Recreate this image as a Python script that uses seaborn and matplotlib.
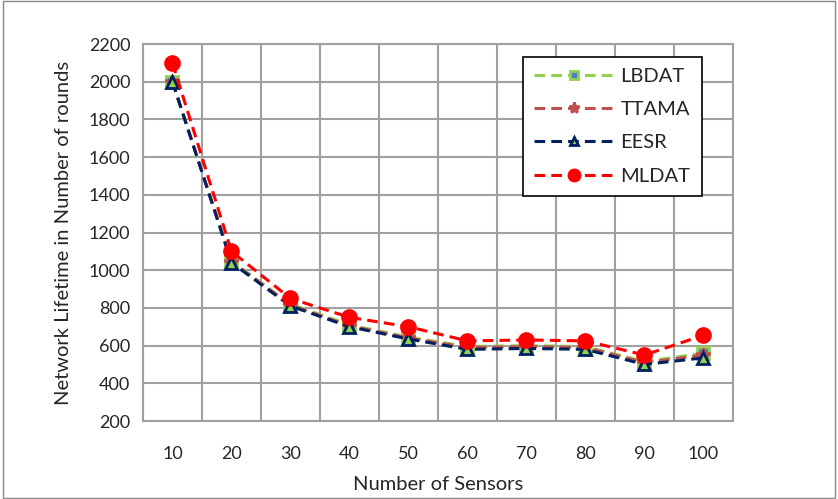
import numpy as np
import pandas as pd
import seaborn as sns
import matplotlib.pyplot as plt
from matplotlib.patches import Rectangle

sensors = ['10', '20', '30', '40', '50', '60', '70', '80', '90', '100']
lbdat = [2000, 1050, 820, 710, 645, 595, 600, 595, 515, 560]
ttama = [2000, 1045, 815, 705, 640, 590, 595, 590, 510, 550]
eesr = [2000, 1040, 810, 700, 635, 580, 585, 580, 500, 535]
mldat = [2100, 1100, 850, 750, 700, 625, 630, 625, 550, 655]

sns.set_style('white')
plt.rcParams['font.family'] = ['Lato', 'DejaVu Sans']

fig = plt.figure(figsize=(8.38, 4.99), dpi=100)
fig.patches.append(Rectangle((0.003, 0.003), 0.994, 0.994, transform=fig.transFigure,
                             fill=False, edgecolor='#888888', linewidth=1))
ax = fig.add_axes([0.1706, 0.1563, 0.7041, 0.7555])

pos = np.arange(len(sensors))
# (name, values, line colour, marker, marker face, marker edge, size)
series = [
    ('LBDAT', lbdat, '#92D050', 's', '#4F81BD', '#92D050', 8),
    ('TTAMA', ttama, '#C0504D', '*', '#C0504D', '#C0504D', 10),
    ('EESR', eesr, '#002060', '^', '#92D050', '#002060', 8),
    ('MLDAT', mldat, '#FF0000', 'o', '#FF0000', '#FF0000', 10),
]
for name, vals, col, mk, mfc, mec, ms in series:
    sns.lineplot(x=pos, y=vals, ax=ax, color=col, linewidth=2.2, label=name,
                 marker=mk, markersize=ms, markerfacecolor=mfc, markeredgecolor=mec,
                 markeredgewidth=2, dashes=False)
    ax.lines[-1].set_dashes([3.5, 2])

ax.set_xlim(-0.5, 9.5)
ax.set_ylim(200, 2200)
ax.set_yticks(range(200, 2201, 200))
ax.set_xticks(pos)
ax.set_xticklabels(sensors)
ax.set_xticks(np.arange(-0.5, 10, 1), minor=True)
ax.grid(False)
ax.grid(True, which='minor', axis='x', color='#A0A0A0', linewidth=1.5)
ax.grid(True, which='major', axis='y', color='#A0A0A0', linewidth=1.5)
ax.set_axisbelow(True)
for s in ax.spines.values():
    s.set_color('#A0A0A0')
    s.set_linewidth(1.5)
ax.tick_params(axis='x', which='major', length=0, labelsize=13, pad=18)
ax.tick_params(axis='x', which='minor', length=6, color='#A0A0A0', width=1.5, direction='out')
ax.tick_params(axis='y', length=6, color='#A0A0A0', width=1.5, direction='out', labelsize=13, pad=3)
ax.set_xlabel('Number of Sensors', fontsize=14.5, labelpad=10)
ax.set_ylabel('Network Lifetime in Number of rounds', fontsize=14.5, labelpad=12)

leg = ax.legend(loc='upper left', bbox_to_anchor=(0.644, 0.966), borderaxespad=0,
                fontsize=14.5, frameon=True, fancybox=False, edgecolor='black',
                borderpad=0.55, labelspacing=0.8, handlelength=4, handletextpad=0.3,
                framealpha=1, markerscale=0.8)
leg.get_frame().set_linewidth(1.2)

fig.savefig('out.png', dpi=100)
